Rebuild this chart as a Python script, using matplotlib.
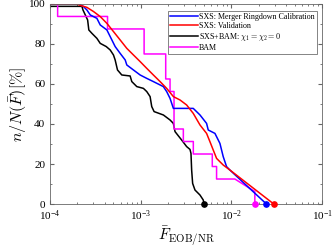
import numpy as np
import matplotlib
matplotlib.use('Agg')
import matplotlib.pyplot as plt
from matplotlib.ticker import LogLocator, MultipleLocator, NullFormatter

plt.rcParams['font.family'] = ['Liberation Serif', 'DejaVu Serif']
plt.rcParams['mathtext.fontset'] = 'cm'

# SXS: Merger Ringdown Calibration
F_mrc = [1.00e-4, 2.07e-4, 2.34e-4, 2.55e-4, 2.78e-4, 3.29e-4, 3.58e-4, 4.24e-4, 4.61e-4,
         5.23e-4, 5.94e-4, 6.75e-4, 7.03e-4, 8.32e-4, 9.86e-4, 1.167e-3, 1.380e-3, 1.778e-3,
         1.935e-3, 2.108e-3, 2.293e-3, 3.80e-3, 4.51e-3, 5.33e-3, 5.56e-3, 6.59e-3, 7.48e-3,
         8.13e-3, 8.85e-3, 9.63e-3, 2.438e-2]
p_mrc = [100, 100, 98.7, 97.0, 94.5, 92.8, 89.5, 87.0, 83.7, 78.7, 75.3, 72.0, 69.5, 67.0,
         64.5, 62.8, 61.2, 58.7, 56.2, 52.8, 47.8, 47.8, 44.5, 40.3, 37.0, 35.3, 30.3, 23.7,
         18.7, 17.0, 0]

# SXS: Validation
F_val = [1.00e-4, 1.98e-4, 2.16e-4, 2.55e-4, 3.02e-4, 3.58e-4, 4.24e-4, 5.01e-4, 5.94e-4,
         7.03e-4, 8.32e-4, 9.86e-4, 1.167e-3, 1.380e-3, 1.636e-3, 1.935e-3, 2.293e-3,
         2.715e-3, 3.213e-3, 3.80e-3, 4.51e-3, 5.33e-3, 5.80e-3, 6.31e-3, 6.87e-3, 8.13e-3,
         9.63e-3, 2.938e-2]
p_val = [100, 100, 99.3, 98.3, 96.2, 93.7, 90.3, 86.2, 82.0, 77.8, 74.5, 71.2, 67.8, 64.5,
         61.2, 57.8, 53.7, 52.0, 49.5, 45.3, 39.5, 35.3, 31.2, 27.0, 22.8, 19.5, 17.0, 0]

# SXS+BAM: nonspinning
F_ns = [1.00e-4, 2.25e-4, 2.31e-4, 2.45e-4, 2.60e-4, 2.68e-4, 2.90e-4, 3.29e-4, 3.58e-4,
        4.17e-4, 4.61e-4, 5.01e-4, 5.23e-4, 5.55e-4, 6.19e-4, 7.65e-4, 7.98e-4, 9.06e-4,
        1.072e-3, 1.167e-3, 1.270e-3, 1.324e-3, 1.406e-3, 1.780e-3, 2.108e-3, 2.293e-3,
        2.392e-3, 2.559e-3, 2.830e-3, 3.213e-3, 3.497e-3, 3.587e-3, 3.648e-3, 3.741e-3,
        3.970e-3, 4.506e-3, 4.90e-3, 4.99e-3]
p_ns = [98.8, 98.8, 97.0, 94.5, 92.0, 87.0, 85.3, 82.8, 80.3, 78.7, 77.0, 74.5, 72.0, 67.0,
        64.5, 64.0, 61.2, 58.7, 57.8, 56.2, 53.7, 48.7, 46.2, 44.5, 42.0, 40.3, 36.2, 34.5,
        32.0, 28.7, 27.3, 25.3, 17.0, 10.3, 7.0, 4.5, 2.0, 0]

# BAM
F_bam = [1.00e-4, 1.214e-4, 1.214e-4, 4.31e-4, 4.31e-4, 1.091e-3, 1.091e-3, 1.888e-3,
         1.888e-3, 2.108e-3, 2.108e-3, 2.332e-3, 2.332e-3, 2.954e-3, 2.954e-3, 3.806e-3,
         3.806e-3, 6.16e-3, 6.16e-3, 6.87e-3, 6.87e-3, 1.093e-2, 1.815e-2, 1.815e-2]
p_bam = [100, 100, 93.75, 93.75, 87.5, 87.5, 75, 75, 62.5, 62.5, 56.25, 56.25, 37.5, 37.5,
         31.25, 31.25, 25, 25, 18.75, 18.75, 12.5, 12.5, 6.25, 0]

series = [
    (F_mrc, p_mrc, 'blue', 'SXS: Merger Ringdown Calibration'),
    (F_val, p_val, 'red', 'SXS: Validation'),
    (F_ns, p_ns, 'black', r'SXS+BAM: $\chi_1=\chi_2=0$'),
    (F_bam, p_bam, 'magenta', 'BAM'),
]

fig = plt.figure(figsize=(3.32, 2.47), dpi=100)
ax = fig.add_axes([0.1506, 0.174, 0.8194, 0.81])

# black and magenta underneath, then blue and red
lines = {}
for F, p, c, lab in [series[2], series[3], series[0], series[1]]:
    lines[lab], = ax.plot(F, p, color=c, lw=1.1, label=lab)
for F, p, c, lab in series:
    ax.plot(F[-1], 0, 'o', color=c, ms=3.8, clip_on=False, zorder=5)

ax.set_xscale('log')
ax.set_xlim(1e-4, 1e-1)
ax.set_ylim(0, 100)
ax.xaxis.set_minor_locator(LogLocator(base=10, subs=np.arange(2, 10)))
ax.xaxis.set_minor_formatter(NullFormatter())
ax.yaxis.set_major_locator(MultipleLocator(20))
ax.yaxis.set_minor_locator(MultipleLocator(10))
ax.tick_params(which='both', direction='in', top=True, right=True, labelsize=8,
               color='0.4')
ax.tick_params(which='major', length=3)
ax.tick_params(which='minor', length=1.5)
for s in ax.spines.values():
    s.set_color('0.4')
    s.set_linewidth(0.6)

ax.set_xlabel(r'$\bar{F}_{\rm EOB/NR}$', fontsize=11, labelpad=1)
ax.set_ylabel(r'$n/N(\bar{F})[\%]$', fontsize=11.5, labelpad=0)

labs = [s[3] for s in series]
leg = ax.legend([lines[k] for k in labs], labs, loc='upper right',
                fontsize=5.8, frameon=True, fancybox=False, borderpad=0.25,
                handlelength=3.4, handletextpad=0.15, labelspacing=0.12,
                borderaxespad=0, bbox_to_anchor=(0.98, 0.965))
leg.get_frame().set_edgecolor('0.3')
leg.get_frame().set_linewidth(0.6)

fig.savefig('out.png', dpi=100)
